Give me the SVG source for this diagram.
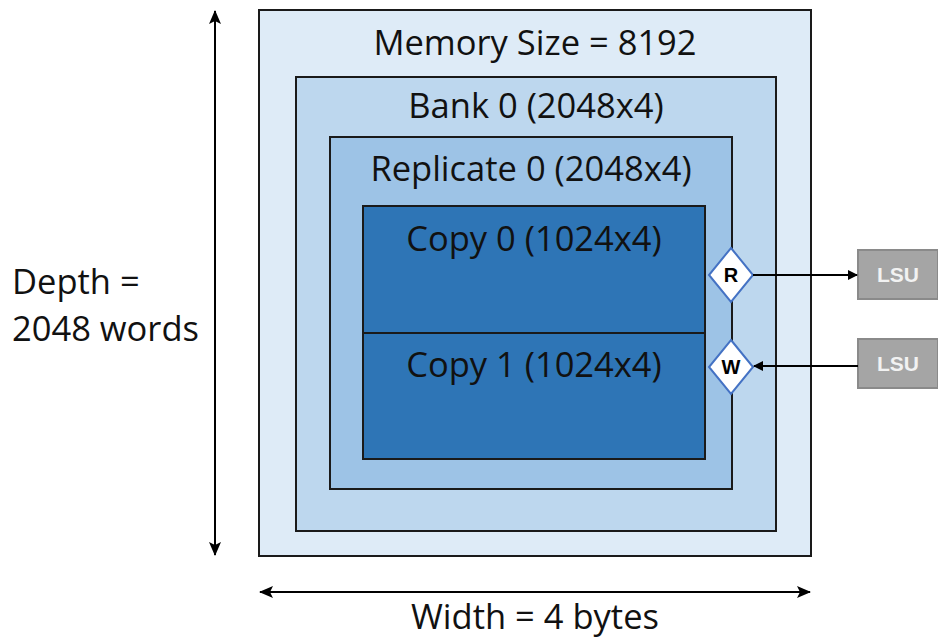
<svg xmlns="http://www.w3.org/2000/svg" width="938" height="639" viewBox="0 0 938 639">
<style>
.box{stroke:#1a1a1a;stroke-width:2}
.t{font-family:"Open Sans","Liberation Sans",sans-serif;font-size:34.5px;fill:#111;text-anchor:middle}
.tl{font-family:"Open Sans","Liberation Sans",sans-serif;font-size:34.5px;fill:#111}
.port{fill:#fff;stroke:#4472c4;stroke-width:2}
.pt{font-family:"Liberation Sans",sans-serif;font-size:20px;font-weight:bold;fill:#000;text-anchor:middle}
.lsu{fill:#a5a5a5;stroke:#8a8a8a;stroke-width:2}
.lt{font-family:"Liberation Sans",sans-serif;font-size:21px;font-weight:bold;fill:#f2f2f2;text-anchor:middle}
.ln{stroke:#000;stroke-width:2;fill:none}
</style>
<defs>
<marker id="ah" markerWidth="10" markerHeight="10" refX="9" refY="5" orient="auto" markerUnits="userSpaceOnUse" viewBox="0 0 10 10">
<path d="M0,0 L10,5 L0,10 z" fill="#000"/>
</marker>
<marker id="ahb" markerWidth="14" markerHeight="14" refX="13" refY="7" orient="auto-start-reverse" markerUnits="userSpaceOnUse" viewBox="0 0 14 14">
<path d="M0,1 L14,7 L0,13 L3,7 z" fill="#000"/>
</marker>
</defs>
<rect width="938" height="639" fill="#fff"/>
<g id="memory">
<rect class="box" x="259" y="10" width="552" height="546" fill="#deebf7"/>
<text class="t" x="535" y="55">Memory Size = 8192</text>
</g>
<g id="bank0">
<rect class="box" x="296" y="77" width="480" height="454" fill="#bdd7ee"/>
<text class="t" x="536" y="118">Bank 0 (2048x4)</text>
</g>
<g id="replicate0">
<rect class="box" x="330" y="137" width="402" height="352" fill="#9dc3e6"/>
<text class="t" x="531" y="181">Replicate 0 (2048x4)</text>
</g>
<g id="copy0">
<rect class="box" x="363" y="206" width="342" height="127" fill="#2e75b6"/>
<text class="t" x="534" y="251">Copy 0 (1024x4)</text>
</g>
<g id="copy1">
<rect class="box" x="363" y="333" width="342" height="126" fill="#2e75b6"/>
<text class="t" x="534" y="377">Copy 1 (1024x4)</text>
</g>
<g id="portR">
<polygon class="port" points="731,248 753,275 731,302 709,275"/>
<text class="pt" x="731" y="282">R</text>
</g>
<g id="portW">
<polygon class="port" points="731,340 753,367 731,394 709,367"/>
<text class="pt" x="731" y="374">W</text>
</g>
<g id="lsu1">
<rect class="lsu" x="858" y="250" width="80" height="49"/>
<text class="lt" x="898" y="282">LSU</text>
</g>
<g id="lsu2">
<rect class="lsu" x="858" y="339" width="80" height="49"/>
<text class="lt" x="898" y="371">LSU</text>
</g>
<g id="labels">
<text class="tl" x="12" y="294">Depth =</text>
<text class="tl" x="12" y="341">2048 words</text>
<text class="t" x="535" y="629">Width = 4 bytes</text>
</g>
<g id="connectors">
<line class="ln" x1="753" y1="275" x2="857" y2="275" marker-end="url(#ah)"/>
<line class="ln" x1="858" y1="366" x2="754" y2="366" marker-end="url(#ah)"/>
<line class="ln" stroke-width="3" x1="215" y1="11" x2="215" y2="555" marker-start="url(#ahb)" marker-end="url(#ahb)"/>
<line class="ln" stroke-width="3" x1="260" y1="592" x2="810" y2="592" marker-start="url(#ahb)" marker-end="url(#ahb)"/>
</g>
</svg>
